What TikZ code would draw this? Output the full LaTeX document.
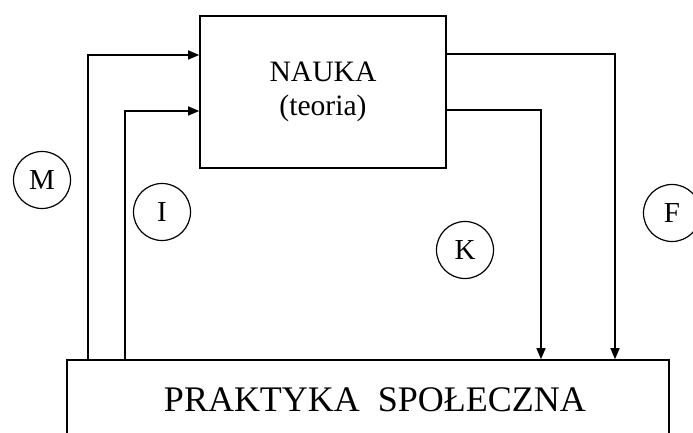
\documentclass[tikz,border=0pt]{standalone}
\usepackage{fontspec}
\setmainfont{Liberation Serif}
\usetikzlibrary{arrows.meta, positioning}

\begin{document}
\begin{tikzpicture}[
  x=1pt, y=1pt,
  box/.style={draw, line width=1.6pt, align=center, inner sep=0pt},
  arrow/.style={-{Triangle[length=11pt, width=9pt]}, line width=1.4pt},
  tag/.style={draw, circle, line width=1.2pt, minimum size=57pt, inner sep=0pt, font=\fontsize{29}{29}\selectfont},
]
  \clip (0,0) rectangle (693,433);
  \node[box, minimum width=246pt, minimum height=152pt, font=\fontsize{29.6}{34}\selectfont] (nauka) at (323,341) {NAUKA\\(teoria)};
  \node[box, minimum width=602pt, minimum height=80pt, font=\fontsize{36}{40}\selectfont] (praktyka) at (368,33) {\hspace*{14pt}PRAKTYKA\ \ SPOŁECZNA};
  % feedback lines
  \coordinate (m) at (88,378);
  \coordinate (i) at (125,322);
  \coordinate (k) at (541,323);
  \coordinate (f) at (615,379);
  \draw[arrow] (m |- praktyka.north) |- (nauka.west |- m);
  \draw[arrow] (i |- praktyka.north) |- (nauka.west |- i);
  \draw[arrow] (nauka.east |- k) -| (k |- praktyka.north);
  \draw[arrow] (nauka.east |- f) -| (f |- praktyka.north);
  \node[tag] (mlab) at (42,253) {M};
  \node[tag] (ilab) at (162,221) {I};
  \node[tag] (klab) at (465,183) {K};
  \node[tag] (flab) at (672,220) {F};
\end{tikzpicture}
\end{document}
